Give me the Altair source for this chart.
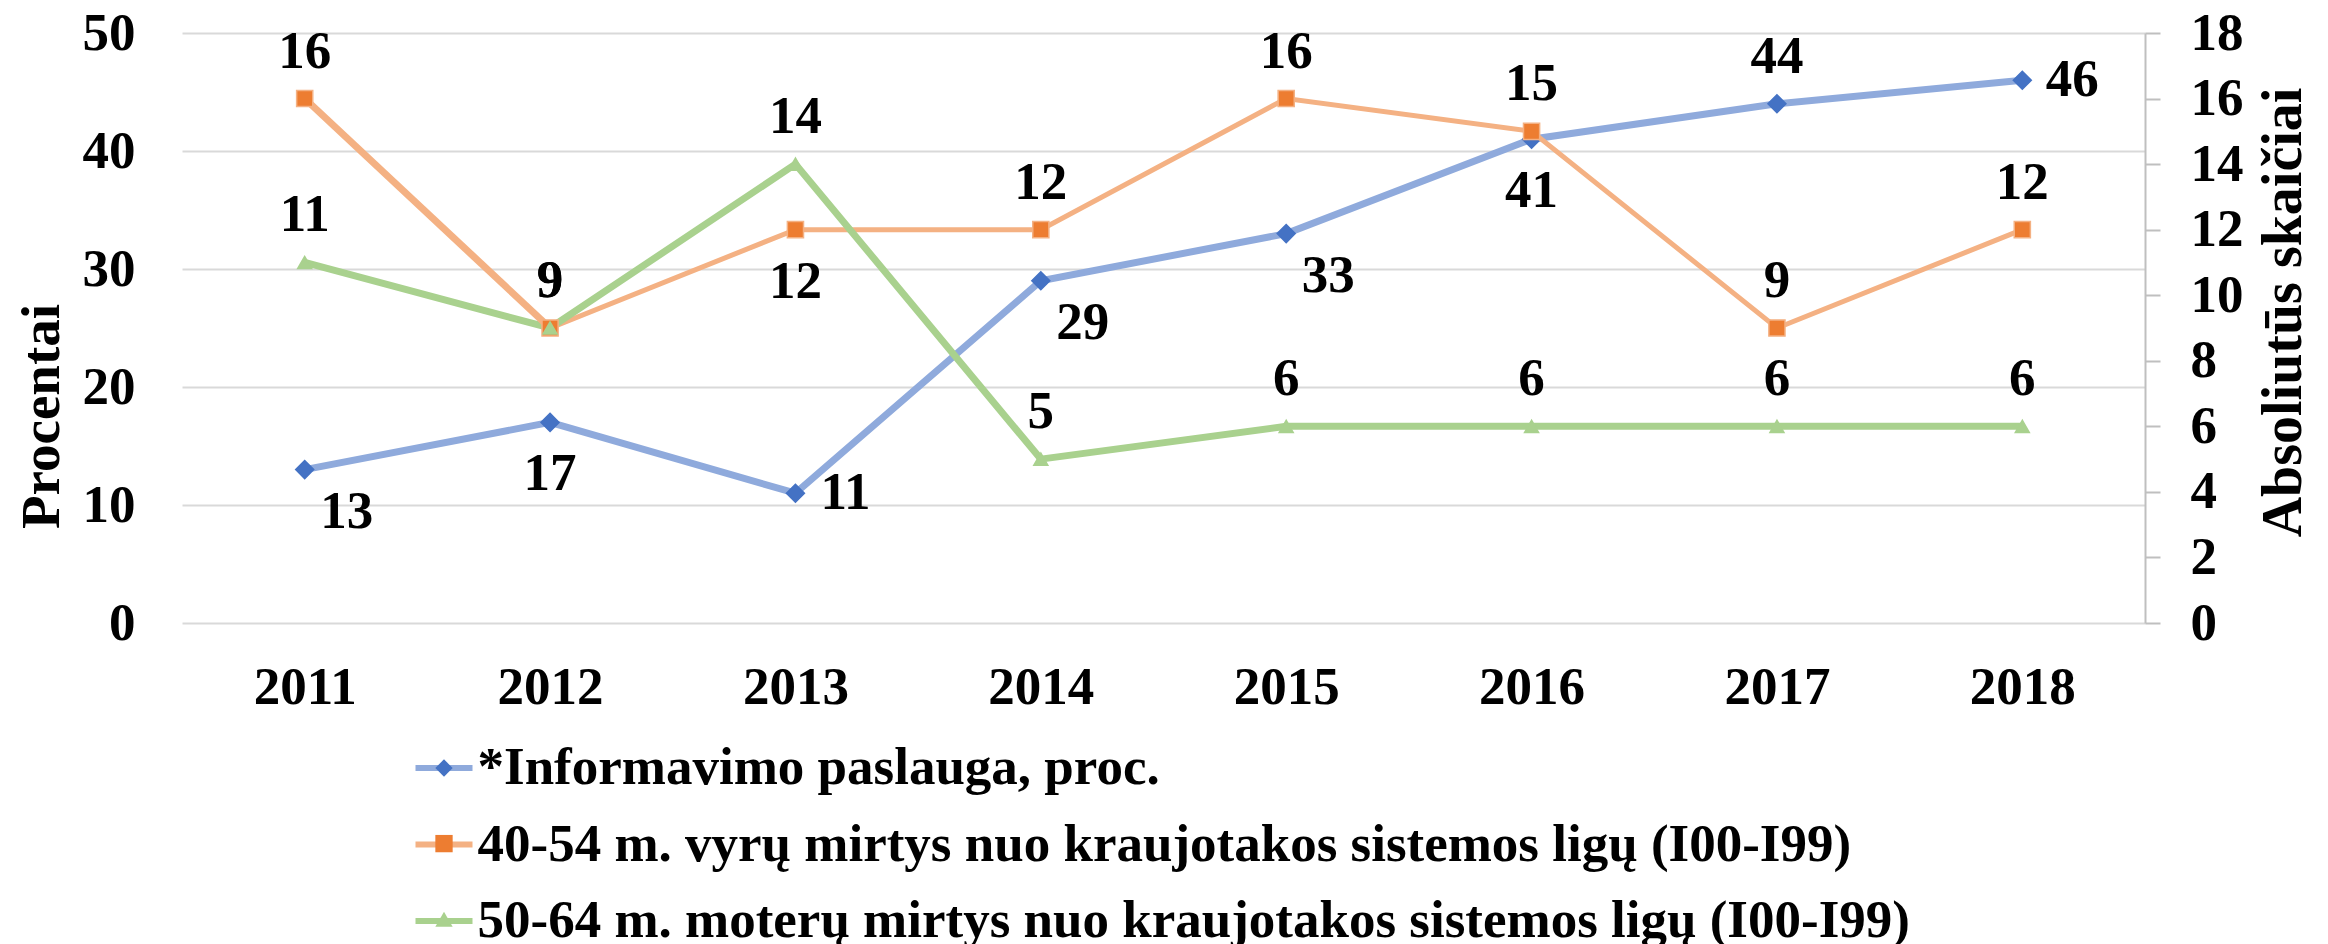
import altair as alt
import pandas as pd

years = ["2011", "2012", "2013", "2014", "2015", "2016", "2017", "2018"]
series = [
    "*Informavimo paslauga, proc.",
    "40-54 m. vyrų mirtys nuo kraujotakos sistemos ligų (I00-I99)",
    "50-64 m. moterų mirtys nuo kraujotakos sistemos ligų (I00-I99)",
]
info_pct = [13, 17, 11, 29, 33, 41, 44, 46]
men_deaths = [16, 9, 12, 12, 16, 15, 9, 12]
women_deaths = [11, 9, 14, 5, 6, 6, 6, 6]
info_label_pos = ["br", "b", "r", "br", "br", "b", "a", "r"]
men_label_pos = ["a", "a", "b", "a", "a", "a", "a", "a"]
women_label_pos = ["a", "a", "a", "a", "a", "a", "a", "a"]
men_thick_years = ["2011", "2012"]

line_colors = ["#8faadc", "#f4b183", "#a9d18e"]
marker_fill = ["#4472c4", "#ed7d31", "#a9d18e"]
marker_stroke = ["#4472c4", "#f4b183", "#a9d18e"]
marker_shapes = ["diamond", "square", "triangle-up"]
marker_sizes = [324, 196, 361]
offsets = {"a": (0, -47), "b": (0, 52), "r": (50, 0), "br": (42, 42)}

FONT = "Liberation Serif"
FS = 53

rows = []
for vals, places, s in [(info_pct, info_label_pos, series[0]),
                        (men_deaths, men_label_pos, series[1]),
                        (women_deaths, women_label_pos, series[2])]:
    for y, v, p in zip(years, vals, places):
        rows.append({"year": y, "series": s, "series_m": "m" + s, "series_s": "s" + s,
                     "value": v, "place": p})
df = pd.DataFrame(rows)
df_left = df[df.series == series[0]]
df_right = df[df.series != series[0]]
df_men_thick = df[(df.series == series[1]) & (df.year.isin(men_thick_years))]

x_enc = alt.X("year:O", title=None,
              axis=alt.Axis(labelAngle=0, domain=False, ticks=False, grid=False,
                            labelFont=FONT, labelFontSize=FS, labelFontWeight="bold",
                            labelColor="black", labelPadding=38))

y_left = alt.Y("value:Q", scale=alt.Scale(domain=[0, 50], nice=False),
               axis=alt.Axis(orient="left", values=[0, 10, 20, 30, 40, 50], grid=True,
                             gridColor="#d9d9d9", gridWidth=2, domain=False, ticks=False,
                             labelFont=FONT, labelFontSize=FS, labelFontWeight="bold",
                             labelColor="black", labelPadding=47,
                             title="Procentai", titleFont=FONT, titleFontSize=55,
                             titleFontWeight="bold", titleColor="black", titleAngle=270,
                             titleX=-141, titleY=383, titleAlign="center",
                             titleBaseline="middle"))
y_right = alt.Y("value:Q", scale=alt.Scale(domain=[0, 18], nice=False),
                axis=alt.Axis(orient="right", values=list(range(0, 19, 2)), grid=False,
                              domain=True, domainColor="#bfbfbf", domainWidth=2,
                              ticks=True, tickSize=15, tickColor="#bfbfbf", tickWidth=2,
                              labelFont=FONT, labelFontSize=FS, labelFontWeight="bold",
                              labelColor="black", labelPadding=30, labelAlign="left",
                              title="Absoliutūs skaičiai", titleFont=FONT, titleFontSize=56,
                              titleFontWeight="bold", titleColor="black", titleAngle=270,
                              titleX=138, titleY=279, titleAlign="center",
                              titleBaseline="middle"))

LEG_X, LEG_Y = 230.5, 703.5
color_enc = alt.Color("series:N", scale=alt.Scale(range=line_colors),
                      legend=alt.Legend(orient="none", legendX=LEG_X, legendY=LEG_Y,
                                        title=None, padding=0, symbolType="stroke",
                                        symbolSize=3249, symbolStrokeWidth=6,
                                        labelFont=FONT, labelFontSize=FS,
                                        labelFontWeight="bold", labelColor="black",
                                        labelOffset=2, rowPadding=17.5, labelLimit=3000))
pt_legend = alt.Legend(orient="none", legendX=LEG_X + 22.5, legendY=LEG_Y + 22.5,
                       title=None, padding=0, symbolSize=300, symbolStrokeWidth=0,
                       symbolOpacity=1, labelFontSize=1, labelExpr="''",
                       rowPadding=57.6, labelLimit=10)
fill_enc = alt.Fill("series_m:N", scale=alt.Scale(range=marker_fill), legend=pt_legend)
shape_enc = alt.Shape("series_m:N", scale=alt.Scale(range=marker_shapes), legend=pt_legend)
stroke_enc = alt.Stroke("series_s:N", scale=alt.Scale(range=marker_stroke), legend=None)
size_enc = alt.Size("series_s:N", scale=alt.Scale(range=marker_sizes), legend=None)


def text_layers(data, y_enc, places):
    out = []
    for p in places:
        dx, dy = offsets[p]
        out.append(
            alt.Chart(data).transform_filter(alt.datum.place == p)
            .mark_text(dx=dx, dy=dy, align="center", baseline="middle", font=FONT,
                       fontSize=FS, fontWeight="bold", color="black")
            .encode(x=x_enc, y=y_enc, text="value:Q")
        )
    return out


left_line = alt.Chart(df_left).mark_line(strokeWidth=7).encode(x=x_enc, y=y_left, color=color_enc)
left_pts = alt.Chart(df_left).mark_point(filled=True, strokeWidth=1.5, opacity=1).encode(
    x=x_enc, y=y_left, fill=fill_enc, shape=shape_enc, stroke=stroke_enc, size=size_enc)
left = alt.layer(left_line, left_pts, *text_layers(df_left, y_left, ["a", "b", "r", "br"]))

right_line = alt.Chart(df_right).mark_line().encode(
    x=x_enc, y=y_right, color=color_enc,
    strokeWidth=alt.StrokeWidth("series:N", scale=alt.Scale(domain=series[1:], range=[5, 7]),
                                legend=None))
men_thick = alt.Chart(df_men_thick).mark_line(strokeWidth=7).encode(
    x=x_enc, y=y_right, color=color_enc)
right_pts = alt.Chart(df_right).mark_point(filled=True, strokeWidth=1.5, opacity=1).encode(
    x=x_enc, y=y_right, fill=fill_enc, shape=shape_enc, stroke=stroke_enc, size=size_enc)
right = alt.layer(right_line, men_thick, right_pts, *text_layers(df_right, y_right, ["a", "b"]))

chart = (
    alt.layer(left, right)
    .resolve_scale(y="independent", strokeWidth="independent")
    .properties(width=1963, height=590,
                padding={"left": 174, "top": 25, "right": 175, "bottom": 321},
                autosize=alt.AutoSizeParams(type="none"), background="white")
    .configure_view(stroke=None)
)

chart.save("out.html", embed_options={"renderer": "svg", "actions": False})
